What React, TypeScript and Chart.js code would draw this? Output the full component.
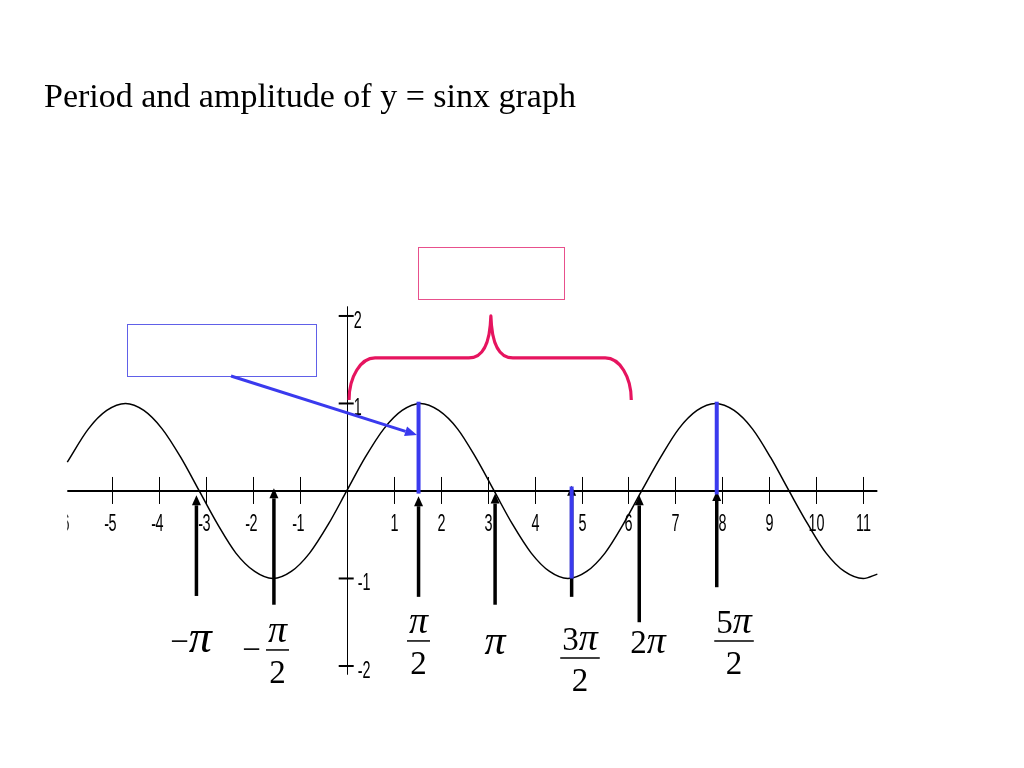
import React, { useEffect, useRef } from "react";
import { Chart, registerables } from "chart.js";

Chart.register(...registerables);

const titleText = "Period and amplitude of y = sinx graph";

// y = sin x
const curveX = [-5.95, -5.5, -5.11, -4.71, -4.32, -3.93, -3.53, -3.14, -2.75, -2.36, -1.96, -1.57, -1.18, -0.79, -0.39, 0, 0.39, 0.79, 1.18, 1.57, 1.96, 2.36, 2.75, 3.14, 3.53, 3.93, 4.32, 4.71, 5.11, 5.5, 5.89, 6.28, 6.68, 7.07, 7.46, 7.85, 8.25, 8.64, 9.03, 9.42, 9.82, 10.21, 10.6, 11.0, 11.3];
const curveY = [0.33, 0.71, 0.92, 1, 0.92, 0.71, 0.38, 0, -0.38, -0.71, -0.92, -1, -0.92, -0.71, -0.38, 0, 0.38, 0.71, 0.92, 1, 0.92, 0.71, 0.38, 0, -0.38, -0.71, -0.92, -1, -0.92, -0.71, -0.38, 0, 0.38, 0.71, 0.92, 1, 0.92, 0.71, 0.38, 0, -0.38, -0.71, -0.92, -1, -0.95];

// axes
const xTickValues = [-6, -5, -4, -3, -2, -1, 1, 2, 3, 4, 5, 6, 7, 8, 9, 10, 11];
const yTickValues = [2, 1, -1, -2];
const xAxisExtent = [-5.95, 11.3];
const yAxisExtent = [-2.1, 2.11];

// black arrows pointing at the multiples of pi/2
const arrowX = [-3.2, -1.55, 1.53, 3.16, 4.79, 6.23, 7.88];
const arrowTip = [-0.05, 0.03, -0.06, -0.03, 0.06, -0.05, 0.0];
const arrowTail = [-1.2, -1.3, -1.21, -1.3, -1.21, -1.5, -1.1];

// blue amplitude segments
const ampX = [1.53, 4.79, 7.88];
const ampFrom = [-0.03, 0.05, -0.04];
const ampTo = [1.02, -1.0, 1.02];

// pi labels
const piLabelText = ["−π", "−π/2", "π/2", "π", "3π/2", "2π", "5π/2"];
const piLabelX = [-3.316, -1.474, 1.529, 3.158, 4.968, 6.416, 8.248];
const piLabelY = [-1.84, -1.817, -1.714, -1.863, -1.909, -1.851, -1.714];
const piGlyphSize = [46, 38, 38, 42, 38, 38, 38];

// annotation shapes (data coordinates)
const blueBox = { x0: -4.68, x1: -0.654, y0: 1.909, y1: 1.314 };
const pinkBox = { x0: 1.511, x1: 4.612, y0: 2.786, y1: 2.192 };
const pointer = { x0: -2.464, y0: 1.314, x1: 1.497, y1: 0.64 };
const brace = { left: 0.05, right: 6.06, tip: 3.07, bottom: 1.04, flat: 1.52, top: 2.0 };

const BLUE = "rgb(58,58,238)";
const PINK = "rgb(230,20,95)";

function drawArrow(ctx: CanvasRenderingContext2D, x1: number, y1: number, x2: number, y2: number, lw: number, headLen: number, headW: number, color: string) {
  const ang = Math.atan2(y2 - y1, x2 - x1);
  const bx = x2 - Math.cos(ang) * headLen;
  const by = y2 - Math.sin(ang) * headLen;
  ctx.save();
  ctx.strokeStyle = color;
  ctx.fillStyle = color;
  ctx.lineWidth = lw;
  ctx.lineCap = "butt";
  ctx.beginPath();
  ctx.moveTo(x1, y1);
  ctx.lineTo(bx, by);
  ctx.stroke();
  const px = -Math.sin(ang) * headW / 2;
  const py = Math.cos(ang) * headW / 2;
  ctx.beginPath();
  ctx.moveTo(x2, y2);
  ctx.lineTo(bx + px, by + py);
  ctx.lineTo(bx - px, by - py);
  ctx.closePath();
  ctx.fill();
  ctx.restore();
}

const tickFont = '24px "Liberation Sans", "DejaVu Sans", sans-serif';
const NARROW = 0.6;

function narrowWidth(ctx: CanvasRenderingContext2D, t: string) {
  return ctx.measureText(t).width * NARROW;
}
function drawNarrow(ctx: CanvasRenderingContext2D, t: string, x: number, y: number) {
  ctx.save();
  ctx.translate(x, y);
  ctx.scale(NARROW, 1);
  ctx.textAlign = "left";
  ctx.textBaseline = "alphabetic";
  ctx.fillText(t, 0, 0);
  ctx.restore();
}

const numFont = '33px "Liberation Serif", "Times New Roman", serif';
function piFont(size: number) {
  return `italic ${size}px "Liberation Serif", "Times New Roman", serif`;
}

function runsFor(text: string): string[] {
  const out: string[] = [];
  for (const ch of Array.from(text)) out.push(ch);
  return out;
}
function runsWidth(ctx: CanvasRenderingContext2D, runs: string[], piSize: number) {
  let w = 0;
  for (const r of runs) {
    ctx.font = r === "π" ? piFont(piSize) : numFont;
    w += ctx.measureText(r).width;
  }
  return w;
}
function drawRuns(ctx: CanvasRenderingContext2D, runs: string[], cx: number, baseline: number, piSize: number) {
  const w = runsWidth(ctx, runs, piSize);
  let x = cx - w / 2;
  ctx.textAlign = "left";
  ctx.textBaseline = "alphabetic";
  for (const r of runs) {
    ctx.font = r === "π" ? piFont(piSize) : numFont;
    ctx.fillText(r, x, baseline);
    x += ctx.measureText(r).width;
  }
  return w;
}

const backgroundPlugin = {
  id: "axesAndArrows",
  beforeDatasetsDraw(chart: any) {
    const ctx: CanvasRenderingContext2D = chart.ctx;
    const X = (v: number) => chart.scales.x.getPixelForValue(v);
    const Y = (v: number) => chart.scales.y.getPixelForValue(v);
    const x0 = X(0);
    const y0 = Y(0);
    ctx.save();
    ctx.fillStyle = "#fff";
    ctx.fillRect(0, 0, chart.width, chart.height);
    ctx.strokeStyle = "#000";
    ctx.fillStyle = "#000";
    // x axis
    ctx.lineWidth = 2;
    ctx.beginPath();
    ctx.moveTo(X(xAxisExtent[0]), y0);
    ctx.lineTo(X(xAxisExtent[1]), y0);
    ctx.stroke();
    // y axis
    ctx.lineWidth = 1;
    ctx.beginPath();
    ctx.moveTo(Math.round(x0) + 0.5, Y(yAxisExtent[1]));
    ctx.lineTo(Math.round(x0) + 0.5, Y(yAxisExtent[0]));
    ctx.stroke();
    // x ticks and labels, clipped to axis extent
    ctx.save();
    ctx.beginPath();
    ctx.rect(X(xAxisExtent[0]), 0, X(xAxisExtent[1]) - X(xAxisExtent[0]) + 10, chart.height);
    ctx.clip();
    ctx.font = tickFont;
    for (const v of xTickValues) {
      const px = Math.round(X(v)) + 0.5;
      ctx.lineWidth = 1;
      ctx.beginPath();
      ctx.moveTo(px, y0 - 14);
      ctx.lineTo(px, y0 + 13);
      ctx.stroke();
      const digits = String(Math.abs(v));
      const dw = narrowWidth(ctx, digits);
      drawNarrow(ctx, digits, px - dw / 2, y0 + 40);
      if (v < 0) {
        const mw = narrowWidth(ctx, "-");
        drawNarrow(ctx, "-", px - dw / 2 - mw + 0.5, y0 + 40);
      }
    }
    ctx.restore();
    // y ticks and labels
    ctx.font = tickFont;
    for (const v of yTickValues) {
      const py = Y(v);
      ctx.lineWidth = 2;
      ctx.beginPath();
      ctx.moveTo(x0 - 8, py);
      ctx.lineTo(x0 + 7, py);
      ctx.stroke();
      const label = v < 0 ? "-" + Math.abs(v) : String(v);
      drawNarrow(ctx, label, x0 + (v < 0 ? 11 : 7), py + 12);
    }
    // black arrows
    for (let i = 0; i < arrowX.length; i++) {
      drawArrow(ctx, X(arrowX[i]), Y(arrowTail[i]), X(arrowX[i]), Y(arrowTip[i]), 3.5, 10, 9, "#000");
    }
    ctx.restore();
  },
};

const overlayPlugin = {
  id: "overlay",
  afterDatasetsDraw(chart: any) {
    const ctx: CanvasRenderingContext2D = chart.ctx;
    const X = (v: number) => chart.scales.x.getPixelForValue(v);
    const Y = (v: number) => chart.scales.y.getPixelForValue(v);
    ctx.save();
    // boxes
    ctx.lineWidth = 1;
    ctx.strokeStyle = "rgb(96,96,232)";
    ctx.strokeRect(Math.round(X(blueBox.x0)) + 0.5, Math.round(Y(blueBox.y0)) + 0.5, Math.round(X(blueBox.x1) - X(blueBox.x0)), Math.round(Y(blueBox.y1) - Y(blueBox.y0)));
    ctx.strokeStyle = "rgb(232,80,140)";
    ctx.strokeRect(Math.round(X(pinkBox.x0)) + 0.5, Math.round(Y(pinkBox.y0)) + 0.5, Math.round(X(pinkBox.x1) - X(pinkBox.x0)), Math.round(Y(pinkBox.y1) - Y(pinkBox.y0)));
    // pointer arrow
    drawArrow(ctx, X(pointer.x0), Y(pointer.y0), X(pointer.x1), Y(pointer.y1), 3, 12, 10, BLUE);
    // brace
    const L = X(brace.left), R = X(brace.right), T = X(brace.tip);
    const yb = Y(brace.bottom), yf = Y(brace.flat), yt = Y(brace.top);
    const rx = 26, ry = yb - yf, k = 0.552;
    ctx.strokeStyle = PINK;
    ctx.lineWidth = 3.2;
    ctx.lineCap = "butt";
    ctx.lineJoin = "round";
    ctx.beginPath();
    ctx.moveTo(L, yb);
    ctx.bezierCurveTo(L, yf + ry * (1 - k), L + rx * (1 - k), yf, L + rx, yf);
    ctx.lineTo(T - 22, yf);
    ctx.bezierCurveTo(T - 10, yf, T - 1, yf - 10, T, yt);
    ctx.bezierCurveTo(T + 1, yf - 10, T + 10, yf, T + 22, yf);
    ctx.lineTo(R - rx, yf);
    ctx.bezierCurveTo(R - rx * (1 - k), yf, R, yf + ry * (1 - k), R, yb);
    ctx.stroke();
    // pi labels
    ctx.fillStyle = "#000";
    ctx.strokeStyle = "#000";
    for (let i = 0; i < piLabelText.length; i++) {
      const text = piLabelText[i];
      const cx = X(piLabelX[i]);
      const cy = Y(piLabelY[i]);
      const ps = piGlyphSize[i];
      if (text.includes("/")) {
        let body = text;
        let sign = "";
        if (body.startsWith("−")) {
          sign = "−";
          body = body.slice(1);
        }
        const [num, den] = body.split("/");
        const numRuns = runsFor(num);
        const denRuns = runsFor(den);
        const w = Math.max(runsWidth(ctx, numRuns, ps), runsWidth(ctx, denRuns, ps)) + 4;
        drawRuns(ctx, numRuns, cx, cy - 8, ps);
        drawRuns(ctx, denRuns, cx, cy + 33, ps);
        ctx.lineWidth = 1.5;
        ctx.beginPath();
        ctx.moveTo(cx - w / 2, cy);
        ctx.lineTo(cx + w / 2, cy);
        ctx.stroke();
        if (sign) {
          ctx.font = numFont;
          ctx.textAlign = "right";
          ctx.textBaseline = "alphabetic";
          ctx.fillText(sign, cx - w / 2 - 5, cy + 10);
        }
      } else {
        drawRuns(ctx, runsFor(text), cx, cy, ps);
      }
    }
    ctx.restore();
  },
};

export default function App() {
  const canvasRef = useRef<HTMLCanvasElement | null>(null);

  useEffect(() => {
    if (!canvasRef.current) return;
    const sine = curveX.map((x, i) => ({ x, y: curveY[i] }));
    const ampSets = ampX.map((x, i) => ({
      data: [
        { x, y: ampFrom[i] },
        { x, y: ampTo[i] },
      ],
      showLine: true,
      borderColor: BLUE,
      borderWidth: 4,
      pointRadius: 0,
      borderCapStyle: "butt" as const,
    }));
    const chart = new Chart(canvasRef.current, {
      type: "scatter",
      data: {
        datasets: [
          ...ampSets,
          {
            data: sine,
            showLine: true,
            borderColor: "#000",
            borderWidth: 1.5,
            pointRadius: 0,
            cubicInterpolationMode: "monotone",
          },
        ],
      },
      options: {
        animation: false,
        responsive: false,
        maintainAspectRatio: false,
        events: [],
        layout: { padding: 0 },
        plugins: {
          legend: { display: false },
          tooltip: { enabled: false },
          title: { display: false },
        },
        scales: {
          x: { type: "linear", min: -7.383, max: 14.423, display: false },
          y: { type: "linear", min: -3.166, max: 5.611, display: false },
        },
      },
      plugins: [backgroundPlugin, overlayPlugin],
    } as any);
    return () => chart.destroy();
  }, []);

  return (
    <div style={{ position: "fixed", left: 0, top: 0, width: 1024, height: 768, background: "#fff", overflow: "hidden" }}>
      <canvas ref={canvasRef} width={1024} height={768} style={{ display: "block", width: 1024, height: 768 }} />
      <div
        style={{
          position: "absolute",
          left: 44,
          top: 79,
          fontFamily: '"Liberation Serif", "Times New Roman", serif',
          fontSize: 34,
          lineHeight: "34px",
          color: "#000",
          whiteSpace: "nowrap",
        }}
      >
        {titleText}
      </div>
    </div>
  );
}
